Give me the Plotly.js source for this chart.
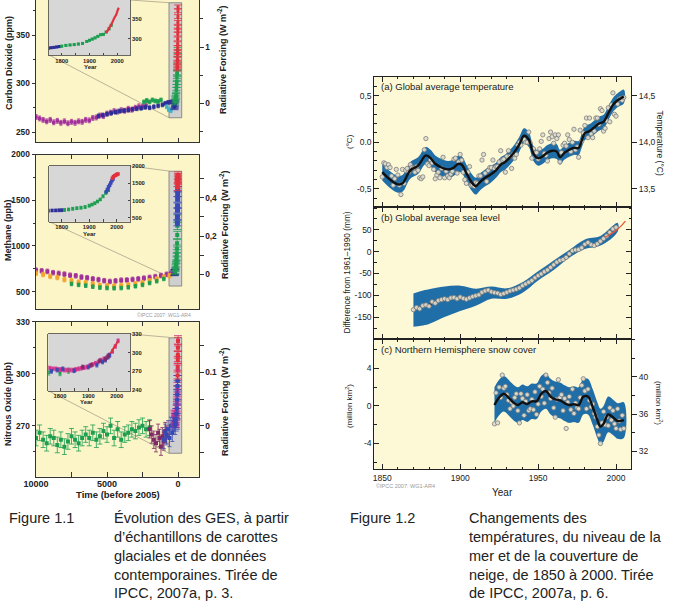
<!DOCTYPE html>
<html><head><meta charset="utf-8">
<script src="https://cdn.plot.ly/plotly-3.0.1.min.js"></script>
<style>html,body{margin:0;padding:0;background:#fff}#chart{width:677px;height:614px}</style>
</head><body><div id="chart"></div>
<script>
// ---------------- DATA ----------------
const REF_YEAR = 2005; // "Time (before 2005)"
// CO2 (ppm), main panel, years before 2005
const co2DomeAge = [10000,9750,9500,9250,9000,8750,8500,8250,8000,7750,7500,7250,7000,6750,6500,6250,6000,5750,5500,5250,5000,4750,4500,4250,4000,3750,3500,3250,3000,2750,2500,2250];
const co2DomeVal = [265.5,264,262.5,261,262.5,260,261.5,259.5,261,259,260.5,259.5,261,260.5,262.5,262,264.5,265,267,266.5,269,270,271.5,271,272.5,272,274,273,275,276.5,276,277.5];
const co2TaylorAge = [5600,5300,5000,4700,4400,4100,3800,3500,3200,2900,2600,2300,2000,1700,1400,1100,900,700,500,300];
const co2TaylorVal = [266.5,267.5,268.5,269.5,270.5,271.5,272,272.5,273.5,274,274.5,275.5,275,276,277,278,279.5,280.5,281,279];
const co2GreenAge = [2400,2200,2000,1800,1600,1400,1200];
const co2GreenVal = [281,282.5,281,283,282,281.5,283];
const co2CyanAge = [800,650,500,350];
const co2CyanVal = [276,273,272,276];
// CO2 recent (calendar years)
const co2EarlyYear = [1752,1762,1772,1782,1792];
const co2EarlyVal = [276,277,278,279,280];
const co2LawYear = [1800,1815,1830,1845,1860,1875,1890,1900,1910,1920,1930,1940,1950,1960,1970,1978];
const co2LawVal = [281,283,284,285,286.5,288,293,296,299,302,306,310,311,317,325,334];
const co2MloYear = [1958,1961,1964,1967,1970,1973,1976,1979,1982,1985,1988,1991,1994,1997,2000,2003,2005];
const co2MloVal = [315,317,319,322,325,330,332,337,341,346,351,355,358,363,369,375,379];

// Methane (ppb)
const ch4DomeAge = [10000,9600,9200,8800,8400,8000,7600,7200,6800,6400,6000,5600,5200,4800,4400,4000,3600,3200,2800,2400,2000,1600,1200,800,500];
const ch4DomeVal = [735,728,722,708,700,692,680,674,660,652,640,632,620,612,618,626,628,634,640,648,656,665,677,690,700];
const ch4OrangeAge = [10000,9500,9000,8500,8000,7500,7000,6500,6000,5500,5000,4500,4000,3500,3000,2500,2000,1500,1000,600];
const ch4OrangeVal = [702,688,668,655,632,620,605,598,585,570,565,562,568,575,585,600,620,640,660,675];
const ch4GreenAge = [7500,7000,6500,6000,5500,5000,4500,4000,3500,3000,2500,2000,1500,1000];
const ch4GreenVal = [585,575,566,555,545,540,538,540,548,560,575,595,615,640];
const ch4EarlyYear = [1752,1765,1778,1790,1800];
const ch4EarlyVal = [705,710,712,715,718];
const ch4LawYear = [1810,1825,1840,1855,1870,1885,1900,1910,1920,1930,1940,1950,1960,1970];
const ch4LawVal = [725,740,760,775,790,810,850,880,920,970,1030,1120,1220,1300];
const ch4BlueYear = [1962,1966,1970,1974,1978,1982,1986];
const ch4BlueVal = [1250,1320,1390,1440,1510,1570,1620];
const ch4RedYear = [1984,1988,1992,1996,2000,2004];
const ch4RedVal = [1645,1690,1715,1735,1750,1770];

// Nitrous oxide (ppb)
const n2oGreenAge = [10000,9750,9500,9250,9000,8750,8500,8250,8000,7750,7500,7250,7000,6750,6500,6250,6000,5750,5500,5250,5000,4750,4500,4250,4000,3750,3500,3250,3000,2750,2500,2250,2000];
const n2oGreenVal = [263,266,262,260,264,263,259,262,258,261,264,262,260,263,265,263,266,262,264,267,265,270,263,268,262,265,266,268,267,269,270,268,269];
const n2oMaroonAge = [2000,1850,1700,1550,1400,1300,1200,1100,1000,900,800];
const n2oMaroonVal = [268,265,262,260,266,263,258,264,261,267,265];
const n2oBlueAge = [1000,900,800,700,600,500,400,300,200];
const n2oBlueVal = [262,266,264,268,263,270,266,272,270];
const n2oPinkYear = [1755,1765,1775,1785,1795,1805,1815,1825,1835,1845,1855,1865,1875,1885,1895,1905,1915,1925,1935,1945,1955,1965,1975,1985,1995,2005];
const n2oPinkVal = [276,275,274,274,273,273,272,272,272,272,273,274,275,276,277,279,281,283,285,288,290,292,296,302,310,319];
const n2oInBlueYear = [1770,1790,1810,1850,1900,1930,1950,1960,1970,1975];
const n2oInBlueVal = [270,272,274,271,277,280,285,288,293,296];
const n2oInGreenYear = [1760,1800,1830];
const n2oInGreenVal = [268,267,271];
const n2oPurpleYear = [1880,1910,1940,1960,1970];
const n2oPurpleVal = [277,280,287,290,295];
const n2oRedYear = [1978,1985,1990,1995,2000,2005];
const n2oRedVal = [299,304,308,311,315,319];

// (a) Global average temperature, annual anomaly (°C), 1850-2005
const TEMP_START = 1850;
const tempAnnual = [-0.37,-0.22,-0.23,-0.27,-0.24,-0.27,-0.36,-0.46,-0.39,-0.29,
 -0.35,-0.46,-0.56,-0.29,-0.44,-0.30,-0.28,-0.32,-0.24,-0.27,
 -0.28,-0.32,-0.26,-0.30,-0.38,-0.39,-0.37,-0.08,0.04,-0.23,
 -0.25,-0.19,-0.22,-0.29,-0.39,-0.35,-0.32,-0.38,-0.28,-0.16,
 -0.38,-0.31,-0.36,-0.38,-0.34,-0.31,-0.18,-0.17,-0.33,-0.21,
 -0.13,-0.19,-0.32,-0.40,-0.44,-0.32,-0.26,-0.46,-0.46,-0.47,
 -0.43,-0.44,-0.36,-0.36,-0.19,-0.13,-0.33,-0.42,-0.30,-0.27,
 -0.27,-0.19,-0.28,-0.26,-0.26,-0.21,-0.09,-0.19,-0.18,-0.32,
 -0.15,-0.09,-0.15,-0.28,-0.13,-0.17,-0.13,-0.03,0.00,-0.03,
 0.03,0.03,0.00,0.00,0.11,-0.01,-0.17,-0.07,-0.11,-0.11,
 -0.18,-0.07,0.01,0.08,-0.12,-0.14,-0.20,0.04,0.11,0.06,
 -0.01,0.08,0.04,0.08,-0.21,-0.11,-0.03,-0.01,-0.04,0.08,
 0.03,-0.10,0.00,0.14,-0.08,-0.05,-0.16,0.13,0.01,0.10,
 0.18,0.26,0.05,0.26,0.09,0.05,0.12,0.26,0.26,0.19,
 0.36,0.34,0.12,0.15,0.23,0.37,0.22,0.40,0.53,0.30,
 0.28,0.41,0.46,0.47,0.45,0.48];
const tempSmoothYear = [1850,1855,1860,1863,1868,1873,1878,1881,1884,1888,1892,1895,1899,1901,1904,1907,1910,1913,1916,1919,1923,1926,1929,1932,1935,1938,1941,1944,1947,1950,1953,1956,1959,1962,1964,1967,1970,1973,1976,1978,1980,1983,1986,1989,1992,1995,1998,2001,2005];
const tempSmoothVal = [-0.32,-0.40,-0.45,-0.44,-0.30,-0.25,-0.14,-0.17,-0.23,-0.27,-0.29,-0.28,-0.23,-0.24,-0.33,-0.42,-0.47,-0.42,-0.38,-0.35,-0.30,-0.24,-0.21,-0.16,-0.10,-0.02,0.07,0.03,-0.12,-0.17,-0.15,-0.11,-0.09,-0.10,-0.16,-0.11,-0.08,-0.06,-0.06,0.02,0.10,0.12,0.16,0.20,0.22,0.31,0.40,0.45,0.49];
const tempBandHalf = [0.09,0.09,0.09,0.09,0.09,0.09,0.09,0.09,0.09,0.09,0.09,0.09,0.09,0.09,0.09,0.09,0.09,0.09,0.09,0.09,
 0.08,0.08,0.08,0.08,0.08,0.08,0.08,0.08,0.08,0.08,0.08,0.08,0.08,0.08,0.08,
 0.075,0.075,0.075,0.075,0.075,0.075,0.075,0.075,0.075,0.075,0.075,0.075,0.075,0.075];
const tempTickVals = [-0.5,0,0.5];
const tempTickText = ['-0,5','0.0','0,5'];
const absTempTickVals = [13.5,14,14.5];
const absTempTickText = ['13,5','14,0','14,5'];

// (b) Global average sea level (mm), every 2 years 1870-2000
const SEA_START = 1870, SEA_STEP = 2;
const seaVals = [-133,-128,-131,-124,-122,-125,-115,-118,-112,-110,-108,-110,-106,-105,-108,-104,-107,-109,-106,-103,
 -101,-99,-93,-90,-88,-92,-94,-95,-98,-96,-93,-90,-88,-86,-83,-78,-74,-70,-66,-60,
 -55,-51,-46,-42,-36,-30,-24,-20,-18,-13,-5,2,4,5,9,17,21,16,14,18,24,30,36,44,52,56];
const seaBandYear = [1870,1875,1880,1890,1900,1910,1920,1930,1940,1950,1960,1970,1980,1990,2001];
const seaBandUpper = [-96,-90,-86,-80,-78,-85,-80,-84,-70,-45,-20,4,28,36,66];
const seaBandLower = [-172,-170,-166,-150,-136,-124,-108,-108,-94,-66,-42,-14,6,14,46];
const seaSatYear = [1993,1995,1997,1999,2001,2003,2006];
const seaSatVal = [33,37,42,46,52,58,70];
const seaTickVals = [-150,-100,-50,0,50];
const seaTickText = ['-150','-100','-50','0','50'];

// (c) Northern Hemisphere snow cover (million km2), annual 1922-2005
const SNOW_START = 1922;
const snowAnnual = [-1.9,1.4,-1.8,2.0,0.9,3.3,1.9,2.1,1.2,0.6,
 -0.3,0.4,0.0,0.9,1.3,-0.5,-1.8,1.3,0.8,-1.0,
 0.5,1.2,-0.5,-0.3,0.7,-0.4,1.5,-0.9,0.2,2.1,
 1.0,1.8,0.3,3.3,2.5,1.4,0.8,1.9,-0.2,-1.2,
 0.7,2.8,0.9,1.2,-0.5,0.8,-2.4,0.4,1.0,-0.4,
 1.8,-0.8,0.3,-0.2,-0.3,0.9,2.2,2.9,1.6,-0.3,
 1.8,0.6,-0.1,0.2,-0.8,-1.2,-2.2,-3.1,-4.0,-1.8,
 -0.6,-2.0,-1.2,-2.1,-0.2,-1.5,-0.5,-1.9,-2.4,-0.3,
 -1.6,-2.5,-1.0,-2.4];
const snowSmoothYear = [1922,1925,1928,1931,1934,1937,1940,1943,1946,1949,1952,1955,1958,1961,1964,1967,1970,1973,1976,1979,1982,1985,1988,1990,1992,1995,1998,2001,2005];
const snowSmoothVal = [0.1,0.9,1.3,0.9,0.4,0.1,0.4,0.2,0.5,0.5,1.3,1.6,1.0,0.7,0.6,0.3,0.1,0.2,0.1,1.0,1.0,-0.1,-1.5,-2.2,-1.9,-0.9,-1.2,-1.6,-1.5];
const snowBandHalf = 1.9;
const snowTickVals = [-4,0,4];
const snowTickText = ['-4','0','4'];
const snowAbsTickVals = [32,36,40];

// Tick labels, left figure
const timeTickVals = [10000,7500,5000,2500,0];
const timeTickText = ['10000','','5000','','0'];
const insetTickVals = [1800,1850,1900,1950,2000];
const insetTickText = ['1800','','1900','','2000'];
const ch4RfTickVals = [0,0.1,0.2,0.3,0.4,0.5];
const ch4RfTickText = ['0','','0,2','','0,4',''];
const n2oRfTickVals = [-0.05,0,0.05,0.1,0.15];
const n2oRfTickText = ['','0','','0.1',''];

// ---------------- helpers ----------------
const W=677,H=614;
const dX=(a,b)=>[a/W,b/W];
const dY=(t,b)=>[1-b/H,1-t/H];
const PX=x=>x/W, PY=y=>1-y/H;
const SANS='"Liberation Sans", Arial, Helvetica, sans-serif';
const toAge = ys => ys.map(y => REF_YEAR - y);
const seq = (start, n, step) => Array.from({length:n}, (_, i) => start + i*step);

const MAG='#a1309b', NAVY='#2b2e96', GREEN='#1d9e50', CYAN='#3fb4c9', RED='#e2303c',
      ORANGE='#f4a52c', MAROON='#7d2a67', PINK='#d2308b', BLUE='#3848b5', BAND='#1f6ea8';

function pts(x,y,color,xa,ya,err,size,capw){
  return {type:'scatter',mode:'markers',x:x,y:y,xaxis:xa,yaxis:ya,
    marker:{symbol:'square',size:size||3.5,color:color,line:{width:0}},
    error_y:{type:'constant',value:err,color:color,thickness:0.8,width:capw||1.5},
    hoverinfo:'skip',showlegend:false};
}
function line(x,y,color,xa,ya,w,extra){
  return Object.assign({type:'scatter',mode:'lines',x:x,y:y,xaxis:xa,yaxis:ya,
    line:{color:color,width:w||2,shape:'spline'},hoverinfo:'skip',showlegend:false}, extra||{});
}
function dummy(xa,ya){ return {type:'scatter',mode:'markers',x:[],y:[],xaxis:xa,yaxis:ya,showlegend:false,hoverinfo:'skip'}; }
function band(xs, up, lo, xa, ya){
  return {type:'scatter',mode:'lines',x:xs.concat(xs.slice().reverse()),y:up.concat(lo.slice().reverse()),
    xaxis:xa,yaxis:ya,fill:'toself',fillcolor:BAND,line:{width:0,shape:'spline',color:BAND},hoverinfo:'skip',showlegend:false};
}
function circles(x,y,xa,ya){
  return {type:'scatter',mode:'markers',x:x,y:y,xaxis:xa,yaxis:ya,
    marker:{symbol:'circle',size:4.3,color:'rgba(222,220,205,0.95)',line:{color:'#7c7c7c',width:0.8}},
    hoverinfo:'skip',showlegend:false};
}

const traces = [];
// ---- CO2 main (x, y) ----
traces.push(pts(co2DomeAge,co2DomeVal,MAG,'x','y',2.5));
traces.push(pts(co2TaylorAge,co2TaylorVal,NAVY,'x','y',2));
traces.push(pts(co2GreenAge,co2GreenVal,GREEN,'x','y',2));
traces.push(pts(co2CyanAge,co2CyanVal,CYAN,'x','y',2));
traces.push(pts(toAge(co2EarlyYear),co2EarlyVal,NAVY,'x','y',3,3.5,4));
traces.push(pts(toAge(co2LawYear),co2LawVal,GREEN,'x','y',3,3.5,4));
traces.push(Object.assign(pts(toAge(co2MloYear),co2MloVal,RED,'x','y',2,3,4),{mode:'lines+markers',line:{color:RED,width:1.5}}));
traces.push(dummy('x','y2'));
// ---- Methane main (x2, y3) ----
traces.push(pts(ch4DomeAge,ch4DomeVal,MAG,'x2','y3',25,4));
traces.push(pts(ch4OrangeAge,ch4OrangeVal,ORANGE,'x2','y3',25,4));
traces.push(pts(ch4GreenAge,ch4GreenVal,GREEN,'x2','y3',20,3.5));
traces.push(pts(toAge(ch4EarlyYear),ch4EarlyVal,NAVY,'x2','y3',30,3.5,4));
traces.push(pts(toAge(ch4LawYear),ch4LawVal,GREEN,'x2','y3',40,4,4));
traces.push(pts(toAge(ch4BlueYear),ch4BlueVal,BLUE,'x2','y3',30,5,4));
traces.push(pts(toAge(ch4RedYear),ch4RedVal,RED,'x2','y3',40,5,4));
traces.push(dummy('x2','y4'));
// ---- N2O main (x3, y5) ----
traces.push(pts(n2oGreenAge,n2oGreenVal,GREEN,'x3','y5',4.5,4,2.5));
traces.push(pts(n2oMaroonAge,n2oMaroonVal,MAROON,'x3','y5',5,4,2));
traces.push(pts(n2oBlueAge,n2oBlueVal,BLUE,'x3','y5',5,4,2));
traces.push(pts(toAge(n2oPinkYear),n2oPinkVal,PINK,'x3','y5',3,4,4));
traces.push(pts(toAge(n2oInBlueYear),n2oInBlueVal,BLUE,'x3','y5',3,4,4));
traces.push(pts(toAge(n2oRedYear),n2oRedVal,RED,'x3','y5',2,4,4));
traces.push(dummy('x3','y6'));
// ---- Insets ----
traces.push(pts(co2EarlyYear,co2EarlyVal,NAVY,'x4','y7',2,3));
traces.push(pts(co2LawYear,co2LawVal,GREEN,'x4','y7',2,3));
traces.push(line(co2MloYear,co2MloVal,RED,'x4','y7',2.2));
traces.push(pts(ch4EarlyYear,ch4EarlyVal,NAVY,'x5','y8',40,3));
traces.push(pts(ch4LawYear,ch4LawVal,GREEN,'x5','y8',40,3));
traces.push(pts(ch4BlueYear,ch4BlueVal,BLUE,'x5','y8',20,3.5));
traces.push(pts(ch4RedYear,ch4RedVal,RED,'x5','y8',20,3.5));
traces.push(pts(n2oInGreenYear,n2oInGreenVal,GREEN,'x6','y9',4,3));
traces.push(pts(n2oPinkYear,n2oPinkVal,PINK,'x6','y9',3,3));
traces.push(pts(n2oInBlueYear,n2oInBlueVal,BLUE,'x6','y9',3,3));
traces.push(pts(n2oPurpleYear,n2oPurpleVal,MAROON,'x6','y9',3,3));
traces.push(line(n2oRedYear,n2oRedVal,RED,'x6','y9',2));
// ---- Right figure ----
const tempYears = seq(TEMP_START, tempAnnual.length, 1);
traces.push(band(tempSmoothYear, tempSmoothVal.map((v,i)=>v+tempBandHalf[i]), tempSmoothVal.map((v,i)=>v-tempBandHalf[i]), 'x7','y10'));
traces.push(circles(tempYears,tempAnnual,'x7','y10'));
traces.push(line(tempSmoothYear,tempSmoothVal,'#111','x7','y10',2.4));
traces.push(dummy('x7','y11'));
const seaYears = seq(SEA_START, seaVals.length, SEA_STEP);
traces.push(band(seaBandYear, seaBandUpper, seaBandLower, 'x8','y12'));
traces.push(line(seaYears,seaVals,'#111','x8','y12',2.2,{line:{color:'#111',width:2.2,shape:'spline',smoothing:1.3}}));
traces.push(circles(seaYears,seaVals,'x8','y12'));
traces.push(line(seaSatYear,seaSatVal,'#e8563a','x8','y12',1.3));
const snowYears = seq(SNOW_START, snowAnnual.length, 1);
traces.push(band(snowSmoothYear, snowSmoothVal.map(v=>v+snowBandHalf), snowSmoothVal.map(v=>v-snowBandHalf), 'x9','y13'));
traces.push(circles(snowYears,snowAnnual,'x9','y13'));
traces.push(line(snowSmoothYear,snowSmoothVal,'#111','x9','y13',2.4));
traces.push(dummy('x9','y14'));

// ---------------- axes ----------------
const LAX = {showline:true,linecolor:'#333',linewidth:1,ticks:'outside',ticklen:3.5,tickcolor:'#333',tickwidth:1,
  showgrid:false,zeroline:false,fixedrange:true,tickfont:{family:SANS,size:8.3,color:'#222',weight:'bold'}};
const minorL = (d)=>({dtick:d,ticks:'outside',ticklen:2.5,tickcolor:'#333'});
const INS = {showline:true,linecolor:'#444',linewidth:0.8,ticks:'inside',ticklen:2.5,tickcolor:'#444',
  showgrid:false,zeroline:false,fixedrange:true,tickfont:{family:SANS,size:5.8,color:'#222',weight:'bold'}};
const RAX = {showline:true,linecolor:'#222',linewidth:1,ticks:'inside',ticklen:5,tickcolor:'#222',tickwidth:1,
  showgrid:false,zeroline:false,fixedrange:true,tickfont:{family:SANS,size:8.5,color:'#222'}};
const TIME_RANGE=[10000,-1479], YEAR_RANGE=[1844.9,2009.6];
const yearAx = (anchor, labels) => Object.assign({}, RAX, {domain:dX(374.3,631),anchor:anchor,range:YEAR_RANGE,
  tickmode:'linear',tick0:1850,dtick:50,mirror:'ticks',showticklabels:labels,
  minor:{dtick:10,tick0:1850,ticks:'inside',ticklen:2.5,tickcolor:'#222'}});

const layout = {
  width:W,height:H,autosize:false,margin:{l:0,r:0,t:0,b:0},
  paper_bgcolor:'#ffffff',plot_bgcolor:'rgba(0,0,0,0)',showlegend:false,
  font:{family:SANS,color:'#222'},
  xaxis: Object.assign({},LAX,{domain:dX(36,199),anchor:'y',range:TIME_RANGE,ticks:'inside',ticklen:4,tickmode:'array',tickvals:timeTickVals,ticktext:timeTickText,showticklabels:false}),
  yaxis: Object.assign({},LAX,{domain:dY(0,142),anchor:'x',range:[239.7,386.1],tick0:0,dtick:50,minor:minorL(25)}),
  yaxis2: Object.assign({},LAX,{overlaying:'y',side:'right',anchor:'x',range:[-0.696,1.839],tick0:0,dtick:1,minor:minorL(0.5)}),
  xaxis2: Object.assign({},LAX,{domain:dX(36,199),anchor:'y3',range:TIME_RANGE,ticks:'inside',ticklen:4,mirror:'ticks',tickmode:'array',tickvals:timeTickVals,ticktext:timeTickText,showticklabels:false}),
  yaxis3: Object.assign({},LAX,{domain:dY(154.5,309),anchor:'x2',range:[311,2000],tick0:0,dtick:500,minor:minorL(250)}),
  yaxis4: Object.assign({},LAX,{overlaying:'y3',side:'right',anchor:'x2',range:[-0.181,0.6256],tickmode:'array',tickvals:ch4RfTickVals,ticktext:ch4RfTickText}),
  xaxis3: Object.assign({},LAX,{domain:dX(36,199),anchor:'y5',range:TIME_RANGE,ticks:'inside',ticklen:4.5,mirror:'ticks',tickmode:'array',tickvals:timeTickVals,ticktext:timeTickText,ticklabelstandoff:-2,tickfont:{family:SANS,size:9,color:'#222',weight:'bold'}}),
  yaxis5: Object.assign({},LAX,{domain:dY(321.7,476.7),anchor:'x3',range:[240.7,330],tick0:0,dtick:30,minor:minorL(15)}),
  yaxis6: Object.assign({},LAX,{overlaying:'y5',side:'right',anchor:'x3',range:[-0.0955,0.1948],tickmode:'array',tickvals:n2oRfTickVals,ticktext:n2oRfTickText}),
  xaxis4: Object.assign({},INS,{domain:dX(49,130),anchor:'y7',range:[1754.3,2045.7],tickmode:'array',tickvals:insetTickVals,ticktext:insetTickText}),
  yaxis7: Object.assign({},INS,{domain:dY(0,55),anchor:'x4',side:'right',mirror:true,range:[258.6,398.2],tick0:0,dtick:50}),
  xaxis5: Object.assign({},INS,{domain:dX(49.3,130),anchor:'y8',mirror:true,range:[1754.9,2048],tickmode:'array',tickvals:insetTickVals,ticktext:insetTickText}),
  yaxis8: Object.assign({},INS,{domain:dY(166,221.7),anchor:'x5',side:'right',mirror:true,range:[384,2000],tick0:0,dtick:500}),
  xaxis6: Object.assign({},INS,{domain:dX(48.3,130),anchor:'y9',mirror:true,range:[1758.7,2046.9],tickmode:'array',tickvals:insetTickVals,ticktext:insetTickText}),
  yaxis9: Object.assign({},INS,{domain:dY(334,390.7),anchor:'x6',side:'right',mirror:true,range:[238.9,330],tick0:0,dtick:30}),
  xaxis7: yearAx('y10',false),
  xaxis8: yearAx('y12',false),
  xaxis9: yearAx('y13',true),
  yaxis10: Object.assign({},RAX,{domain:dY(76.7,207),anchor:'x7',range:[-0.693,0.703],tickmode:'array',tickvals:tempTickVals,ticktext:tempTickText,minor:{dtick:0.1,tick0:0,ticks:'inside',ticklen:2.5,tickcolor:'#222'}}),
  yaxis11: Object.assign({},RAX,{overlaying:'y10',side:'right',anchor:'x7',ticks:'outside',range:[13.307,14.703],tickmode:'array',tickvals:absTempTickVals,ticktext:absTempTickText}),
  yaxis12: Object.assign({},RAX,{domain:dY(207,339.3),anchor:'x8',mirror:'ticks',range:[-200.9,102.5],tickmode:'array',tickvals:seaTickVals,ticktext:seaTickText,minor:{dtick:25,tick0:0,ticks:'inside',ticklen:2.5,tickcolor:'#222'}}),
  yaxis13: Object.assign({},RAX,{domain:dY(339.3,469.3),anchor:'x9',range:[-6.75,7.11],tickmode:'array',tickvals:snowTickVals,ticktext:snowTickText,minor:{dtick:2,tick0:0,ticks:'inside',ticklen:2.5,tickcolor:'#222'}}),
  yaxis14: Object.assign({},RAX,{overlaying:'y13',side:'right',anchor:'x9',ticks:'outside',range:[30.07,44.01],tickmode:'array',tickvals:snowAbsTickVals,ticktext:snowAbsTickVals.map(String),minor:{dtick:2,tick0:0,ticks:'outside',ticklen:2.5,tickcolor:'#222'}})
};

// ---------------- shapes ----------------
const LEFT_BG='#fcf5c8', RIGHT_BG='#fdf8d6', INSET_BG='#d7d7d7', BOX_BG='#cfcfcf', CONN='#b3ab92';
const bg = (xa,ya,color,lc) => ({type:'rect',xref:xa+' domain',yref:ya+' domain',x0:0,x1:1,y0:0,y1:1,fillcolor:color,line:{width:lc?0.8:0,color:lc||color},layer:'below'});
const seg = (x0,y0,x1,y1) => ({type:'line',xref:'paper',yref:'paper',x0:PX(x0),y0:PY(y0),x1:PX(x1),y1:PY(y1),line:{color:CONN,width:0.9},layer:'below'});
layout.shapes = [
  bg('x','y',LEFT_BG), bg('x2','y3',LEFT_BG), bg('x3','y5',LEFT_BG),
  bg('x7','y10',RIGHT_BG), bg('x8','y12',RIGHT_BG), bg('x9','y13',RIGHT_BG),
  {type:'rect',xref:'x',yref:'y',x0:634,x1:-260,y0:264.7,y1:383.3,fillcolor:BOX_BG,line:{color:'#777',width:0.8},layer:'below'},
  {type:'rect',xref:'x2',yref:'y3',x0:634,x1:-260,y0:562,y1:1817,fillcolor:BOX_BG,line:{color:'#777',width:0.8},layer:'below'},
  {type:'rect',xref:'x3',yref:'y5',x0:634,x1:-260,y0:254.2,y1:320.7,fillcolor:BOX_BG,line:{color:'#777',width:0.8},layer:'below'},
  seg(49,55,169,117.7), seg(130,0,169,2.7),
  seg(49.3,221.7,169,277), seg(130,166,169,171),
  seg(48.3,390.7,169,453.3), seg(130,334,169,337.3),
  bg('x4','y7',INSET_BG), bg('x5','y8',INSET_BG), bg('x6','y9',INSET_BG)
];

// ---------------- annotations ----------------
const ann = (text,x,y,o) => Object.assign({text:text,x:PX(x),y:PY(y),xref:'paper',yref:'paper',showarrow:false,
  xanchor:'center',yanchor:'middle',font:{family:SANS,size:9,color:'#222'}},o||{});
const B = (s,extra)=>Object.assign({family:SANS,size:s,color:'#222',weight:'bold'},extra||{});
const R = (s,extra)=>Object.assign({family:SANS,size:s,color:'#222'},extra||{});
layout.annotations = [
  ann('Carbon Dioxide (ppm)',8.5,63.5,{textangle:-90,font:B(9)}),
  ann('Radiative Forcing (W m<sup>-2</sup>)',222,60,{textangle:-90,font:B(9)}),
  ann('Methane (ppb)',8,230,{textangle:-90,font:B(9)}),
  ann('Radiative Forcing (W m<sup>-2</sup>)',224,225,{textangle:-90,font:B(9)}),
  ann('Nitrous Oxide (ppb)',8,404,{textangle:-90,font:B(9)}),
  ann('Radiative Forcing (W m<sup>-2</sup>)',224,402,{textangle:-90,font:B(9)}),
  ann('Time (before 2005)',118,494,{font:B(9.5)}),
  ann('Year',90,67,{font:B(6)}),
  ann('Year',89.5,234,{font:B(6)}),
  ann('Year',86,402,{font:B(6)}),
  ann('©IPCC 2007: WG1-AR4',193,315,{xanchor:'right',font:R(5,{color:'#999'})}),
  ann('(a) Global average temperature',379,86,{xanchor:'left',font:R(9.5)}),
  ann('(b) Global average sea level',379,217.3,{xanchor:'left',font:R(9.5)}),
  ann('(c) Northern Hemisphere snow cover',379,349,{xanchor:'left',font:R(9.5)}),
  ann('(°C)',349,142,{textangle:-90,font:R(8)}),
  ann('Temperature (°C)',659.5,143,{textangle:90,font:R(8.5)}),
  ann('Difference from 1961–1990 (mm)',346.5,273,{textangle:-90,font:R(8.3)}),
  ann('(million km<sup>2</sup>)',349,406,{textangle:-90,font:R(8)}),
  ann('(million km<sup>2</sup>)',659,403,{textangle:90,font:R(8)}),
  ann('Year',502,492,{font:R(10)}),
  ann('©IPCC 2007: WG1-AR4',374,486,{xanchor:'left',font:R(5.5,{color:'#999'})}),
  ann('Figure 1.1',6.5,508,{xanchor:'left',yanchor:'top',align:'left',font:R(14.5)}),
  ann('Évolution des GES, à partir<br>d’échantillons de carottes<br>glaciales et de données<br>contemporaines. Tirée de<br>IPCC, 2007a, p. 3.',112,508,{xanchor:'left',yanchor:'top',align:'left',font:R(14.5)}),
  ann('Figure 1.2',347.5,508,{xanchor:'left',yanchor:'top',align:'left',font:R(14.5)}),
  ann('Changements des<br>températures, du niveau de la<br>mer et de la couverture de<br>neige, de 1850 à 2000. Tirée<br>de IPCC, 2007a, p. 6.',466.5,508,{xanchor:'left',yanchor:'top',align:'left',font:R(14.5)})
];

Plotly.newPlot('chart', traces, layout, {staticPlot:true, displayModeBar:false});
</script></body></html>
